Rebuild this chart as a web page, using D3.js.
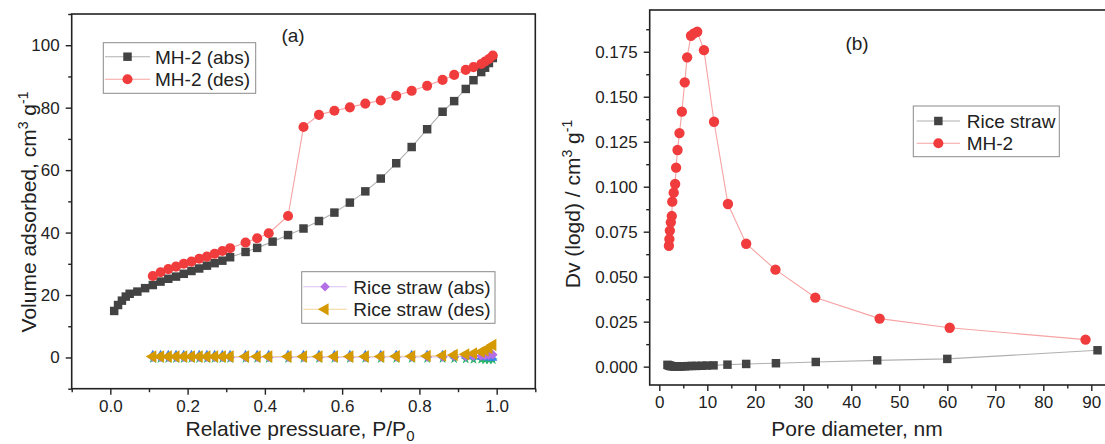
<!DOCTYPE html>
<html>
<head>
<meta charset="utf-8">
<script src="https://cdn.jsdelivr.net/npm/d3@7"></script>
<style>
  html, body { margin: 0; padding: 0; background: #fff; }
  svg { display: block; font-family: "Liberation Sans", Arial, sans-serif; }
</style>
</head>
<body>
<svg id="chart" width="1105" height="444"></svg>
<script>
// ---------- (a) N2 adsorption / desorption isotherms ----------
const pMH2Abs = [0.01, 0.02, 0.03, 0.04, 0.05, 0.07, 0.09, 0.11, 0.13, 0.15, 0.17, 0.19, 0.21, 0.23,
  0.25, 0.27, 0.29, 0.31, 0.35, 0.38, 0.42, 0.46, 0.50, 0.54, 0.58, 0.62, 0.66, 0.70, 0.74, 0.78,
  0.82, 0.86, 0.89, 0.92, 0.94, 0.96, 0.97, 0.98, 0.99];
const vMH2Abs = [14.9, 16.8, 18.2, 19.5, 20.4, 21.1, 22.2, 23.2, 24.3, 25.2, 25.9, 26.8, 27.7, 28.5,
  29.4, 30.2, 31.0, 32.1, 33.8, 35.1, 37.1, 39.2, 41.3, 43.7, 46.4, 49.6, 53.2, 57.3, 62.2, 67.4,
  73.1, 78.7, 82.1, 86.0, 88.8, 91.4, 92.8, 94.3, 95.9];

const pDes = [0.11, 0.13, 0.15, 0.17, 0.19, 0.21, 0.23, 0.25, 0.27, 0.29, 0.31, 0.35, 0.38, 0.41,
  0.46, 0.50, 0.54, 0.58, 0.62, 0.66, 0.70, 0.74, 0.78, 0.82, 0.86, 0.89, 0.92, 0.94, 0.96, 0.97,
  0.98, 0.99];
const vMH2Des = [26.1, 27.3, 28.3, 29.1, 30.0, 30.7, 31.6, 32.3, 33.2, 34.1, 35.0, 36.8, 38.2, 39.8,
  45.3, 73.8, 77.7, 79.0, 80.1, 81.3, 82.3, 83.8, 85.4, 87.0, 88.9, 90.5, 92.1, 93.0, 94.0, 94.8,
  95.6, 96.7];

// rice straw runs (same pressure points as the desorption branch)
const vRiceAbs = [0.1, 0.1, 0.1, 0.1, 0.1, 0.1, 0.1, 0.1, 0.1, 0.1, 0.1, 0.1, 0.1, 0.1,
  0.1, 0.1, 0.1, 0.1, 0.1, 0.1, 0.2, 0.2, 0.2, 0.2, 0.2, 0.3, 0.3, 0.4, 0.5, 0.6, 0.7, 0.9];
const vRiceDes = [0.3, 0.3, 0.3, 0.3, 0.3, 0.3, 0.3, 0.3, 0.3, 0.3, 0.3, 0.3, 0.3, 0.3,
  0.3, 0.3, 0.3, 0.3, 0.3, 0.3, 0.3, 0.4, 0.4, 0.5, 0.6, 0.8, 1.0, 1.3, 1.8, 2.3, 3.0, 4.0];
const vRiceRunB = [0.8, 0.8, 0.8, 0.8, 0.8, 0.8, 0.8, 0.8, 0.8, 0.8, 0.8, 0.8, 0.8, 0.8,
  0.8, 0.8, 0.8, 0.8, 0.8, 0.8, 0.8, 0.8, 0.8, 0.8, 0.8, 0.7, 0.5, 0.3, 0.1, 0.0, -0.1, -0.2];
const vRiceRunC = [-0.4, -0.4, -0.4, -0.4, -0.4, -0.4, -0.4, -0.4, -0.4, -0.4, -0.4, -0.4, -0.4, -0.4,
  -0.4, -0.4, -0.4, -0.4, -0.4, -0.4, -0.4, -0.4, -0.4, -0.4, -0.4, -0.5, -0.6, -0.7, -0.7, -0.8, -0.8, -0.8];

const xTicksA = [0.0, 0.2, 0.4, 0.6, 0.8, 1.0];
const yTicksA = [0, 20, 40, 60, 80, 100];

// ---------- (b) BJH pore size distribution ----------
const dMH2 = [2.0, 2.1, 2.2, 2.4, 2.6, 2.7, 3.0, 3.3, 3.5, 3.8, 4.2, 4.7, 5.3, 5.8, 6.6, 7.2, 7.9,
  9.3, 11.4, 14.3, 18.1, 24.2, 32.5, 45.9, 60.5, 88.8];
const dvMH2 = [0.0672, 0.0709, 0.0756, 0.0802, 0.0837, 0.0917, 0.0967, 0.1015, 0.1106, 0.1204,
  0.1298, 0.1417, 0.1580, 0.1719, 0.1839, 0.1852, 0.1861, 0.1759, 0.1361, 0.0904, 0.0683, 0.0539,
  0.0384, 0.0267, 0.0216, 0.0150];

const dRice = [1.7, 1.9, 2.1, 2.3, 2.5, 2.8, 3.1, 3.4, 3.8, 4.2, 4.7, 5.3, 6.0, 6.8, 7.7, 8.8,
  9.9, 11.3, 14.2, 18.1, 24.3, 32.6, 45.4, 60.0, 91.3];
const dvRice = [0.0010, 0.0008, 0.0006, 0.0004, 0.0003, 0.0002, 0.0001, 0.0001, 0.0001, 0.0001,
  0.0002, 0.0002, 0.0003, 0.0004, 0.0004, 0.0005, 0.0006, 0.0007, 0.0011, 0.0015, 0.0019, 0.0026,
  0.0035, 0.0043, 0.0091];

const xTicksB = [0, 10, 20, 30, 40, 50, 60, 70, 80, 90];
const yTicksB = [0, 0.025, 0.05, 0.075, 0.1, 0.125, 0.15, 0.175];

// ---------- styles ----------
const C = {
  blackMark: "#434343", blackLine: "#b0b0b0",
  redMark: "#f03c3c", redLine: "#f7a3a3",
  purpleMark: "#b46ee6", purpleLine: "#dcc0f4",
  goldMark: "#d49a00", goldLine: "#efd59a",
  blueMark: "#3b82f0", greenMark: "#27b36a",
  axis: "#222", text: "#222", legendBorder: "#8a8a8a"
};

const svg = d3.select("#chart");
const zip = (xs, ys) => xs.map((x, i) => [x, ys[i]]);

const sym = {
  square: d3.symbol().type(d3.symbolSquare).size(72),
  circle: d3.symbol().type(d3.symbolCircle).size(80),
  circleB: d3.symbol().type(d3.symbolCircle).size(84),
  diamond: d3.symbol().type(d3.symbolSquare).size(46),   // drawn rotated 45°
  tri: d3.symbol().type(d3.symbolTriangle).size(66),
  triSmall: d3.symbol().type(d3.symbolTriangle).size(36),
  star: d3.symbol().type(d3.symbolStar).size(30)
};

function series(g, x, y, pts, mark, markColor, lineColor, rotate) {
  if (lineColor) {
    g.append("path").datum(pts)
      .attr("fill", "none").attr("stroke", lineColor).attr("stroke-width", 1.1)
      .attr("d", d3.line().x(d => x(d[0])).y(d => y(d[1])));
  }
  g.selectAll(null).data(pts).enter().append("path")
    .attr("d", mark)
    .attr("fill", markColor)
    .attr("transform", d => `translate(${x(d[0])},${y(d[1])})` + (rotate ? ` rotate(${rotate})` : ""));
}

function frame(g, x, y, xMajor, xMinor, yMajor, yMinor, xFmt, yFmt) {
  const [x0, x1] = x.range(), [y0, y1] = y.range();
  g.append("g").attr("transform", `translate(0,${y0})`)
    .call(d3.axisBottom(x).tickValues(xMajor).tickSize(6).tickPadding(5).tickFormat(xFmt));
  g.append("g").attr("transform", `translate(0,${y0})`)
    .call(d3.axisBottom(x).tickValues(xMinor).tickSize(3.5).tickFormat(""));
  g.append("g").attr("transform", `translate(${x0},0)`)
    .call(d3.axisLeft(y).tickValues(yMajor).tickSize(6).tickPadding(6).tickFormat(yFmt));
  g.append("g").attr("transform", `translate(${x0},0)`)
    .call(d3.axisLeft(y).tickValues(yMinor).tickSize(3.5).tickFormat(""));
  g.selectAll(".domain").remove();
  g.selectAll(".tick line").attr("stroke", C.axis).attr("stroke-width", 1.4);
  g.selectAll(".tick text").attr("font-size", 17).attr("fill", C.text)
    .attr("font-family", "Liberation Sans, Arial, sans-serif");
  g.append("rect").attr("x", x0).attr("y", y1).attr("width", x1 - x0).attr("height", y0 - y1)
    .attr("fill", "none").attr("stroke", C.axis).attr("stroke-width", 1.6);
}

function legend(g, x, y, w, h, rows, fontSize) {
  g.append("rect").attr("x", x).attr("y", y).attr("width", w).attr("height", h)
    .attr("fill", "#fff").attr("stroke", C.legendBorder).attr("stroke-width", 1);
  rows.forEach(r => {
    g.append("line").attr("x1", r.l0).attr("x2", r.l1).attr("y1", r.y).attr("y2", r.y)
      .attr("stroke", r.lineColor).attr("stroke-width", 1.1);
    g.append("path").attr("d", r.mark).attr("fill", r.markColor)
      .attr("transform", `translate(${(r.l0 + r.l1) / 2},${r.y})` + (r.rotate ? ` rotate(${r.rotate})` : ""));
    g.append("text").attr("x", r.tx).attr("y", r.y).attr("dy", "0.36em")
      .attr("font-size", fontSize).attr("fill", C.text).text(r.label);
  });
}

// ================= panel (a) =================
const xA = d3.scaleLinear().domain([-0.1, 1.1]).range([71.7, 535.3]);
const yA = d3.scaleLinear().domain([-10, 110]).range([388.7, 14]);
const gA = svg.append("g");

const xMinorA = d3.range(-0.1, 1.15, 0.2).map(v => +v.toFixed(2));
const yMinorA = d3.range(-10, 111, 20);
frame(gA, xA, yA, xTicksA, xMinorA, yTicksA, yMinorA, d3.format(".1f"), d3.format("d"));

const plotA = gA.append("g");
series(plotA, xA, yA, zip(pDes, vRiceRunC), sym.star, C.greenMark, null);
series(plotA, xA, yA, zip(pDes, vRiceRunB), sym.triSmall, C.blueMark, null);
series(plotA, xA, yA, zip(pMH2Abs, vMH2Abs), sym.square, C.blackMark, C.blackLine);
series(plotA, xA, yA, zip(pDes, vMH2Des), sym.circle, C.redMark, C.redLine);
series(plotA, xA, yA, zip(pDes, vRiceAbs), sym.diamond, C.purpleMark, C.purpleLine, 45);
series(plotA, xA, yA, zip(pDes, vRiceDes), sym.tri, C.goldMark, C.goldLine, -90);

legend(gA, 103.3, 42.7, 152.4, 50.6, [
  { y: 56.7, l0: 105, l1: 150, tx: 155, mark: sym.square, markColor: C.blackMark, lineColor: C.blackLine, label: "MH-2 (abs)" },
  { y: 79.3, l0: 105, l1: 150, tx: 155, mark: sym.circle, markColor: C.redMark, lineColor: C.redLine, label: "MH-2 (des)" }
], 19);
legend(gA, 301.7, 271.7, 193.3, 51.6, [
  { y: 286.7, l0: 303.3, l1: 346.7, tx: 353.3, mark: sym.diamond, markColor: C.purpleMark, lineColor: C.purpleLine, rotate: 45, label: "Rice straw (abs)" },
  { y: 309.3, l0: 303.3, l1: 346.7, tx: 353.3, mark: sym.tri, markColor: C.goldMark, lineColor: C.goldLine, rotate: -90, label: "Rice straw (des)" }
], 19);

gA.append("text").attr("x", 293).attr("y", 42).attr("text-anchor", "middle")
  .attr("font-size", 19).attr("fill", C.text).text("(a)");

// axis titles (a)
const tXA = gA.append("text").attr("x", 300).attr("y", 436).attr("text-anchor", "middle")
  .attr("font-size", 21).attr("fill", C.text);
tXA.append("tspan").text("Relative pressuare, P/P");
tXA.append("tspan").attr("font-size", 15).attr("dy", 5).text("0");

const tYA = gA.append("text").attr("transform", "translate(36,212) rotate(-90)")
  .attr("text-anchor", "middle").attr("font-size", 21).attr("fill", C.text);
tYA.append("tspan").text("Volume adsorbed, cm");
tYA.append("tspan").attr("font-size", 14).attr("dy", -8).text("3");
tYA.append("tspan").attr("dy", 8).text(" g");
tYA.append("tspan").attr("font-size", 14).attr("dy", -8).text("-1");

// ================= panel (b) =================
const xB = d3.scaleLinear().domain([-2, 100]).range([649.7, 1139.3]);
const yB = d3.scaleLinear().domain([-0.0102, 0.1982]).range([385, 10]);
const gB = svg.append("g");

const xMinorB = d3.range(5, 100, 10);
const yMinorB = d3.range(0.0125, 0.19, 0.025);
frame(gB, xB, yB, xTicksB, xMinorB, yTicksB, yMinorB, d3.format("d"), d3.format(".3f"));

const plotB = gB.append("g");
series(plotB, xB, yB, zip(dRice, dvRice), sym.square, C.blackMark, C.blackLine);
series(plotB, xB, yB, zip(dMH2, dvMH2), sym.circleB, C.redMark, C.redLine);

legend(gB, 913.3, 106, 146, 50.7, [
  { y: 121, l0: 916.7, l1: 960, tx: 966.7, mark: sym.square, markColor: C.blackMark, lineColor: C.blackLine, label: "Rice straw" },
  { y: 143.3, l0: 916.7, l1: 960, tx: 966.7, mark: sym.circle, markColor: C.redMark, lineColor: C.redLine, label: "MH-2" }
], 19);

gB.append("text").attr("x", 857).attr("y", 50).attr("text-anchor", "middle")
  .attr("font-size", 19).attr("fill", C.text).text("(b)");

gB.append("text").attr("x", 857).attr("y", 436).attr("text-anchor", "middle")
  .attr("font-size", 21).attr("fill", C.text).text("Pore diameter, nm");

const tYB = gB.append("text").attr("transform", "translate(580,204) rotate(-90)")
  .attr("text-anchor", "middle").attr("font-size", 21).attr("fill", C.text);
tYB.append("tspan").text("Dv (logd) / cm");
tYB.append("tspan").attr("font-size", 14).attr("dy", -8).text("3");
tYB.append("tspan").attr("dy", 8).text(" g");
tYB.append("tspan").attr("font-size", 14).attr("dy", -8).text("-1");
</script>
</body>
</html>
